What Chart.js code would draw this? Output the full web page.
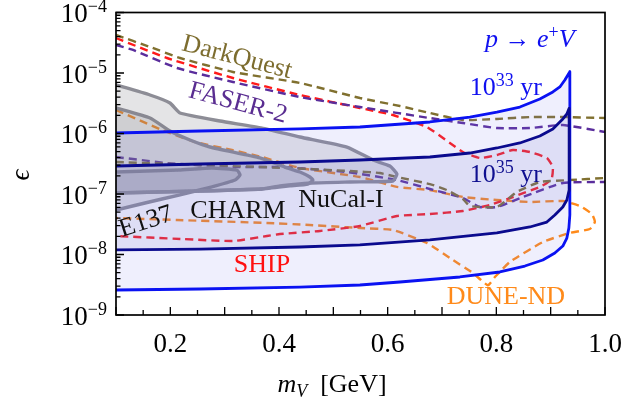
<!DOCTYPE html>
<html><head><meta charset="utf-8">
<script src="https://cdn.jsdelivr.net/npm/chart.js@4.4.1/dist/chart.umd.min.js"></script>
<style>html,body{margin:0;padding:0;background:#fff;}canvas{display:block;}</style>
</head><body>
<canvas id="c" width="626" height="413"></canvas>
<script>
// ---------- tick labels ----------
const xTickValues = [0.2, 0.4, 0.6, 0.8, 1.0];
const xTickLabels = ['0.2', '0.4', '0.6', '0.8', '1.0'];
const xMajorTicks = [0.1, 0.2, 0.3, 0.4, 0.5, 0.6, 0.7, 0.8, 0.9, 1.0];
const xMinorTicks = [0.15, 0.25, 0.35, 0.45, 0.55, 0.65, 0.75, 0.85, 0.95];
const yTickExponents = [-9, -8, -7, -6, -5, -4];

// ---------- proton decay contours p -> e+ V ----------
const tau33M   = [0.100,0.2546,0.4385,0.5489,0.6777,0.7513,0.8010,0.8433,0.8801,0.9040,0.9169,0.9261,0.9353,
                  0.9353,0.9335,0.9298,0.9224,0.9077,0.8856,0.8525,0.8065,0.7329,0.6225,0.5489,0.4385,0.2546,0.100];
const tau33Eps = [1.02e-6,1.10e-6,1.19e-6,1.28e-6,1.55e-6,1.87e-6,2.26e-6,2.74e-6,3.72e-6,4.86e-6,5.88e-6,7.66e-6,1.05e-5,
                  4.50e-8,2.74e-8,1.87e-8,1.38e-8,1.06e-8,8.11e-9,6.45e-9,5.14e-9,4.25e-9,3.51e-9,3.13e-9,2.90e-9,2.69e-9,2.59e-9];
const tau35M   = [0.100,0.2546,0.4385,0.5489,0.6777,0.7513,0.8010,0.8433,0.8801,0.9040,0.9206,0.9298,0.9340,
                  0.9340,0.9298,0.9224,0.9077,0.8930,0.8617,0.8010,0.6777,0.5489,0.4385,0.2546,0.100];
const tau35Eps = [2.90e-7,3.13e-7,3.38e-7,3.65e-7,4.09e-7,4.76e-7,5.76e-7,6.97e-7,9.09e-7,1.19e-6,1.67e-6,2.10e-6,2.60e-6,
                  1.16e-7,7.96e-8,6.10e-8,4.50e-8,3.44e-8,2.85e-8,2.27e-8,1.74e-8,1.44e-8,1.33e-8,1.23e-8,1.19e-8];

// ---------- existing beam-dump limits ----------
const nucalM   = [0.1,0.1626,0.1994,0.2178,0.2914,0.3686,0.4385,0.5250,0.5729,0.6041,0.6170,0.6097,0.5305,0.4606,0.4017,0.3686,0.2546,0.1];
const nucalEps = [6.34e-6,4.33e-6,3.19e-6,2.18e-6,1.61e-6,1.23e-6,8.75e-7,5.98e-7,3.65e-7,2.90e-7,2.14e-7,1.64e-7,1.58e-7,1.52e-7,1.36e-7,1.21e-7,1.12e-7,1.04e-7];
const charmM   = [0.1,0.1626,0.1994,0.2362,0.2730,0.3650,0.4109,0.4385,0.4569,0.4624,0.4532,0.4201,0.3686,0.2546,0.1];
const charmEps = [2.64e-6,1.80e-6,1.10e-6,7.81e-7,5.98e-7,3.94e-7,2.79e-7,2.31e-7,1.91e-7,1.70e-7,1.46e-7,1.36e-7,1.21e-7,1.12e-7,1.04e-7];
const e137M    = [0.1,0.2159,0.2766,0.3226,0.3282,0.3190,0.2766,0.2159,0.1534,0.1];
const e137Eps  = [2.31e-7,2.49e-7,2.69e-7,2.49e-7,2.06e-7,1.70e-7,1.31e-7,9.61e-8,7.10e-8,5.44e-8];

// ---------- future sensitivities ----------
const dqUpperM   = [0.1,0.1626,0.2178,0.3153,0.4385,0.5489,0.6225,0.6777,0.7385,0.8010,0.8617,0.9224,1.0];
const dqUpperEps = [4.25e-5,2.69e-5,1.77e-5,1.04e-5,6.84e-6,3.86e-6,2.85e-6,2.18e-6,1.67e-6,1.74e-6,1.87e-6,1.87e-6,1.80e-6];
const dqLowerM   = [0.1,0.2546,0.4146,0.5305,0.5857,0.6170,0.6777,0.7090,0.7385,0.7513,0.8010,0.8378,0.8801,0.9353,1.0];
const dqLowerEps = [3.38e-7,3.02e-7,2.69e-7,2.40e-7,2.22e-7,1.91e-7,1.46e-7,1.16e-7,8.26e-8,6.34e-8,6.10e-8,1.08e-7,1.58e-7,1.70e-7,1.84e-7];
const faserUpperM   = [0.1,0.1313,0.2122,0.3153,0.4385,0.5489,0.6777,0.7385,0.8010,0.8617,0.9224,1.0];
const faserUpperEps = [2.90e-5,2.40e-5,1.21e-5,7.10e-6,4.01e-6,2.74e-6,1.80e-6,1.49e-6,1.23e-6,1.23e-6,1.38e-6,1.06e-6];
const faserLowerM   = [0.1,0.1938,0.3153,0.4017,0.5250,0.6170,0.6777,0.7385,0.7697,0.8010,0.8489,0.9224,1.0];
const faserLowerEps = [4.09e-7,3.25e-7,2.79e-7,2.79e-7,2.31e-7,1.70e-7,1.21e-7,8.59e-8,6.10e-8,6.10e-8,8.92e-8,1.52e-7,1.58e-7];
const shipM   = [0.1,0.1938,0.3153,0.4385,0.5489,0.6097,0.6722,0.7145,0.7385,0.7697,0.8010,0.8305,0.8617,0.8930,0.9040,0.9022,0.8930,
                 0.8801,0.8305,0.7881,0.7385,0.6777,0.6170,0.5489,0.4753,0.4017,0.3778,0.3153,0.2233,0.1];
const shipEps = [3.79e-5,1.77e-5,8.26e-6,4.33e-6,2.64e-6,2.02e-6,1.28e-6,6.97e-7,4.94e-7,3.94e-7,4.41e-7,5.34e-7,4.94e-7,3.94e-7,2.79e-7,1.84e-7,1.52e-7,
                 1.31e-7,8.92e-8,6.58e-8,5.24e-8,4.67e-8,4.32e-8,2.96e-8,2.45e-8,2.18e-8,2.02e-8,1.67e-8,1.80e-8,2.02e-8];
const duneM   = [0.1,0.1846,0.2454,0.3134,0.3686,0.4385,0.5489,0.6170,0.6777,0.7385,0.8010,0.8617,0.9224,0.9537,0.9758,0.9813,0.9721,0.9353,0.8856,0.8249,
                 0.7973,0.7845,0.7569,0.7200,0.6722,0.6097,0.5489,0.4569,0.3778,0.2122,0.1];
const duneEps = [2.45e-6,1.14e-6,7.24e-7,5.34e-7,4.09e-7,2.69e-7,1.91e-7,1.31e-7,1.16e-7,8.92e-8,7.96e-8,7.38e-8,7.66e-8,6.34e-8,4.67e-8,3.44e-8,2.64e-8,2.27e-8,1.61e-8,7.52e-9,
                 4.25e-9,3.10e-9,4.95e-9,8.11e-9,1.55e-8,2.54e-8,2.74e-8,3.07e-8,3.32e-8,3.72e-8,4.01e-8];

const SERIF = '"Liberation Serif","DejaVu Serif",serif';
const pts = (ms, es) => ms.map((m, i) => ({x: m, y: es[i]}));

function dashed(ms, es, color) {
  return {data: pts(ms, es), showLine: true, borderColor: color, borderWidth: 2.4, borderDash: [8, 5],
          pointRadius: 0, pointHoverRadius: 0, fill: false, tension: 0.15, order: 10};
}
function region(ms, es, line, fillc, width, order, tension) {
  return {data: pts(ms, es), showLine: true, borderColor: line, backgroundColor: fillc, borderWidth: width,
          pointRadius: 0, pointHoverRadius: 0, fill: 'shape', tension: tension, order: order, borderJoinStyle: 'round'};
}

const GRAYLINE = '#8d8d96', GRAYFILL = 'rgba(120,120,128,0.2)';
const datasets = [
  dashed(dqUpperM, dqUpperEps, '#80702f'),
  dashed(dqLowerM, dqLowerEps, '#80702f'),
  dashed(faserUpperM, faserUpperEps, '#5a2d9c'),
  dashed(faserLowerM, faserLowerEps, '#5a2d9c'),
  dashed(shipM, shipEps, '#ff1a1a'),
  dashed(duneM, duneEps, '#ff8a1a'),
  region(nucalM, nucalEps, GRAYLINE, GRAYFILL, 3.4, 5, 0.15),
  region(charmM, charmEps, GRAYLINE, GRAYFILL, 3.4, 5, 0.15),
  region(e137M, e137Eps, GRAYLINE, GRAYFILL, 3.4, 5, 0.15),
  region(tau33M, tau33Eps, '#0a12f2', 'rgba(120,120,240,0.12)', 2.8, 2, 0),
  region(tau35M, tau35Eps, '#0a0a8e', 'rgba(110,110,200,0.13)', 2.8, 1, 0)
];

function drawRich(ctx, segs, x, y, size, color, align) {
  const f = s => `${s.it ? 'italic ' : ''}${(s.sup || s.sub) ? Math.round(size * 0.68) : size}px ${SERIF}`;
  let w = 0;
  const ws = segs.map(s => { ctx.font = f(s); const v = ctx.measureText(s.t).width; w += v; return v; });
  let cx = align === 'center' ? x - w / 2 : (align === 'right' ? x - w : x);
  ctx.fillStyle = color; ctx.textAlign = 'left'; ctx.textBaseline = 'alphabetic';
  segs.forEach((s, i) => {
    ctx.font = f(s);
    const dy = s.sup ? -size * 0.36 : (s.sub ? size * 0.2 : 0);
    ctx.fillText(s.t, cx, y + dy);
    cx += ws[i];
  });
}

const notes = [
  {text: 'DarkQuest', m: 0.3226, eps: 1.80e-5, rot: 14.5, color: '#7d6d2f'},
  {text: 'FASER-2', m: 0.3245, eps: 3.15e-6, rot: 15, color: '#5a2d91'},
  {text: 'E137', m: 0.1552, eps: 3.44e-8, rot: -18, color: '#111'},
  {text: 'CHARM', m: 0.3245, eps: 5.24e-8, rot: 0, color: '#111'},
  {text: 'NuCal-I', m: 0.514, eps: 7.96e-8, rot: 0, color: '#111'},
  {text: 'SHIP', m: 0.3686, eps: 6.7e-9, rot: 0, color: '#ff1010'},
  {text: 'DUNE-ND', m: 0.8176, eps: 1.99e-9, rot: 0, color: '#ff8a1a'}
];
const richNotes = [
  {segs: [{t: 'p', it: true}, {t: ' → '}, {t: 'e', it: true}, {t: '+', sup: true}, {t: 'V', it: true}], m: 0.8617, eps: 2.69e-5, align: 'center', color: '#1010f0'},
  {segs: [{t: '10'}, {t: '33', sup: true}, {t: ' yr'}], m: 0.7513, eps: 4.33e-6, align: 'left', color: '#1010f0'},
  {segs: [{t: '10'}, {t: '35', sup: true}, {t: ' yr'}], m: 0.7513, eps: 1.58e-7, align: 'left', color: '#101090'}
];

const decor = {
  id: 'decor',
  afterDatasetsDraw(chart) {
    const {ctx, chartArea: a, scales: {x, y}} = chart;
    ctx.save();
    // annotations
    notes.forEach(n => {
      ctx.save();
      ctx.translate(x.getPixelForValue(n.m), y.getPixelForValue(n.eps));
      ctx.rotate(n.rot * Math.PI / 180);
      ctx.font = `26px ${SERIF}`; ctx.fillStyle = n.color;
      ctx.textAlign = 'center'; ctx.textBaseline = 'middle';
      ctx.fillText(n.text, 0, 0);
      ctx.restore();
    });
    richNotes.forEach(n => drawRich(ctx, n.segs, x.getPixelForValue(n.m), y.getPixelForValue(n.eps), 26, n.color, n.align));
    // frame
    ctx.strokeStyle = '#000'; ctx.lineWidth = 1.7;
    ctx.strokeRect(a.left, a.top, a.right - a.left, a.bottom - a.top);
    // ticks (inward)
    ctx.lineWidth = 1.3; ctx.beginPath();
    xMajorTicks.forEach(v => { const p = x.getPixelForValue(v); ctx.moveTo(p, a.bottom); ctx.lineTo(p, a.bottom - 8); });
    xMinorTicks.forEach(v => { const p = x.getPixelForValue(v); ctx.moveTo(p, a.bottom); ctx.lineTo(p, a.bottom - 5); });
    yTickExponents.forEach(e => {
      const p = y.getPixelForValue(Math.pow(10, e));
      ctx.moveTo(a.left, p); ctx.lineTo(a.left + 8, p);
      if (e < -4) for (let k = 2; k <= 9; k++) {
        const q = y.getPixelForValue(k * Math.pow(10, e));
        ctx.moveTo(a.left, q); ctx.lineTo(a.left + 4.5, q);
      }
    });
    ctx.stroke();
    // tick labels
    ctx.fillStyle = '#000'; ctx.font = `27px ${SERIF}`; ctx.textAlign = 'center'; ctx.textBaseline = 'alphabetic';
    xTickValues.forEach((v, i) => ctx.fillText(xTickLabels[i], x.getPixelForValue(v), a.bottom + 37));
    yTickExponents.forEach(e => {
      const p = y.getPixelForValue(Math.pow(10, e));
      drawRich(ctx, [{t: '10'}, {t: '−' + Math.abs(e), sup: true}], a.left - 9, p + 9.5, 27, '#000', 'right');
    });
    // axis titles
    drawRich(ctx, [{t: 'm', it: true}, {t: 'V', it: true, sub: true}, {t: '  [GeV]'}], 332, 392, 26, '#000', 'center');
    ctx.save();
    ctx.translate(22, 175); ctx.rotate(-Math.PI / 2);
    ctx.font = `italic 27px ${SERIF}`; ctx.fillStyle = '#000'; ctx.textAlign = 'center'; ctx.textBaseline = 'middle';
    ctx.fillText('ϵ', 0, 0);
    ctx.restore();
    ctx.restore();
  }
};

new Chart(document.getElementById('c'), {
  type: 'scatter',
  data: {datasets},
  options: {
    responsive: false, animation: false, devicePixelRatio: 1,
    layout: {padding: {left: 116, right: 21, top: 12.5, bottom: 98}},
    scales: {
      x: {type: 'linear', min: 0.1, max: 1.0, display: false},
      y: {type: 'logarithmic', min: 1e-9, max: 1e-4, display: false}
    },
    plugins: {legend: {display: false}, tooltip: {enabled: false}}
  },
  plugins: [decor]
});
</script>
</body></html>
